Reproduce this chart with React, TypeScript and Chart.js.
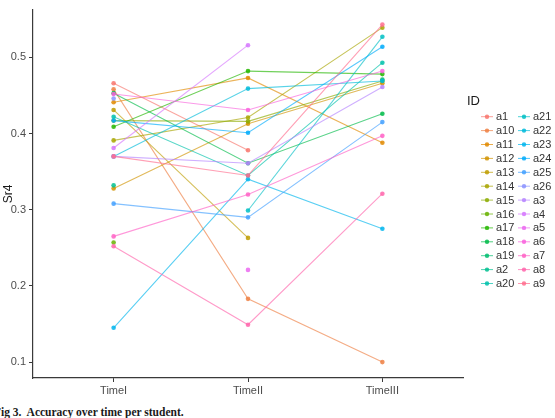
import React, { useEffect, useRef } from "react";
import { Chart, registerables } from "chart.js";

Chart.register(...registerables);

// Student IDs in factor-level (alphabetical) order
const ids = [
  "a1", "a10", "a11", "a12", "a13", "a14", "a15", "a16", "a17", "a18", "a19", "a2", "a20",
  "a21", "a22", "a23", "a24", "a25", "a26", "a3", "a4", "a5", "a6", "a7", "a8", "a9",
];

const timeLabels = ["TimeI", "TimeII", "TimeIII"];
const yTicks = [0.1, 0.2, 0.3, 0.4, 0.5];

// Sr4 per student at TimeI, TimeII, TimeIII (null = not measured)
const a1 = [0.466, 0.378, null];
const a10 = [0.458, 0.183, 0.1];
const a11 = [0.441, 0.473, 0.388];
const a12 = [0.328, 0.413, 0.466];
const a13 = [0.431, 0.263, null];
const a14 = [0.391, 0.421, 0.539];
const a15 = [0.417, 0.416, 0.469];
const a16 = [0.257, null, null];
const a17 = [0.409, 0.482, 0.478];
const a18 = [0.453, 0.361, 0.426];
const a19 = [null, null, 0.471];
const a2 = [0.332, null, null];
const a20 = [0.422, 0.345, 0.493];
const a21 = [null, 0.299, 0.527];
const a22 = [0.37, 0.459, 0.469];
const a23 = [0.145, 0.34, 0.275];
const a24 = [0.417, 0.401, 0.514];
const a25 = [0.308, 0.29, 0.415];
const a26 = [0.446, null, null];
const a3 = [0.37, 0.361, 0.461];
const a4 = [0.381, 0.516, null];
const a5 = [null, 0.221, null];
const a6 = [0.452, 0.431, 0.482];
const a7 = [0.265, 0.32, 0.397];
const a8 = [0.252, 0.149, 0.321];
const a9 = [0.37, 0.345, 0.543];

const seriesValues = [
  a1, a10, a11, a12, a13, a14, a15, a16, a17, a18, a19, a2, a20,
  a21, a22, a23, a24, a25, a26, a3, a4, a5, a6, a7, a8, a9,
];

// HCL (polar Luv) to sRGB, as used by the default discrete hue palette
function hclColor(h: number, c: number, l: number, alpha: number): string {
  const rad = (h * Math.PI) / 180;
  const U = c * Math.cos(rad);
  const V = c * Math.sin(rad);
  const Xn = 95.047, Yn = 100, Zn = 108.883;
  const den = Xn + 15 * Yn + 3 * Zn;
  const un = (4 * Xn) / den;
  const vn = (9 * Yn) / den;
  const Y = l > 8 ? Yn * Math.pow((l + 16) / 116, 3) : (Yn * l) / 903.3;
  const up = U / (13 * l) + un;
  const vp = V / (13 * l) + vn;
  const X = (Y * 9 * up) / (4 * vp);
  const Z = (Y * (12 - 3 * up - 20 * vp)) / (4 * vp);
  const x = X / 100, y = Y / 100, z = Z / 100;
  const lin = [
    3.2404542 * x - 1.5371385 * y - 0.4985314 * z,
    -0.969266 * x + 1.8760108 * y + 0.041556 * z,
    0.0556434 * x - 0.2040259 * y + 1.0572252 * z,
  ];
  const rgb = lin.map((v) => {
    const g = v <= 0.0031308 ? 12.92 * v : 1.055 * Math.pow(v, 1 / 2.4) - 0.055;
    return Math.round(Math.min(1, Math.max(0, g)) * 255);
  });
  return `rgba(${rgb[0]},${rgb[1]},${rgb[2]},${alpha})`;
}

const hueOf = (i: number) => 15 + (360 * i) / ids.length;

const AXIS_COLOR = "#3a3a3a";
const TEXT_COLOR = "#4d4d4d";
const FONT_FAMILY = "'Liberation Sans', Arial, sans-serif";

// Two-column legend with key glyphs (line + point), drawn on the canvas
const idLegend = {
  id: "idLegend",
  afterDraw(chart: Chart) {
    const ctx = chart.ctx;
    ctx.save();
    ctx.fillStyle = "#1a1a1a";
    ctx.font = `13px ${FONT_FAMILY}`;
    ctx.textAlign = "left";
    ctx.textBaseline = "middle";
    ctx.fillText("ID", 467, 101);
    const rows = Math.ceil(ids.length / 2);
    ids.forEach((id, i) => {
      const col = Math.floor(i / rows);
      const row = i % rows;
      const cx = col === 0 ? 487 : 524;
      const cy = 116.7 + row * 13.9;
      ctx.strokeStyle = hclColor(hueOf(i), 100, 65, 0.7);
      ctx.lineWidth = 1;
      ctx.beginPath();
      ctx.moveTo(cx - 6, cy);
      ctx.lineTo(cx + 6, cy);
      ctx.stroke();
      ctx.fillStyle = hclColor(hueOf(i), 100, 65, 0.85);
      ctx.beginPath();
      ctx.arc(cx, cy, 2.2, 0, Math.PI * 2);
      ctx.fill();
      ctx.fillStyle = "#333333";
      ctx.font = `11px ${FONT_FAMILY}`;
      ctx.fillText(id, cx + 9, cy + 0.5);
    });
    ctx.restore();
  },
};

export default function App() {
  const canvasRef = useRef<HTMLCanvasElement | null>(null);

  useEffect(() => {
    if (!canvasRef.current) return;
    const datasets = ids.map((id, i) => ({
      label: id,
      data: seriesValues[i].map((v, t) => ({ x: t + 1, y: v })),
      borderColor: hclColor(hueOf(i), 100, 65, 0.65),
      backgroundColor: hclColor(hueOf(i), 100, 65, 0.85),
      pointBackgroundColor: hclColor(hueOf(i), 100, 65, 0.85),
      pointBorderWidth: 0,
      pointRadius: 2.3,
      borderWidth: 1.1,
      spanGaps: false,
      order: ids.length - i,
    }));

    const chart = new Chart(canvasRef.current, {
      type: "line",
      data: { datasets },
      options: {
        responsive: false,
        animation: false,
        devicePixelRatio: 1,
        layout: { padding: { top: 8, right: 92, left: 0, bottom: 0 } },
        plugins: {
          legend: { display: false },
          tooltip: { enabled: false },
        },
        scales: {
          x: {
            type: "linear",
            min: 0.4,
            max: 3.6,
            afterBuildTicks: (scale: any) => {
              scale.ticks = timeLabels.map((_, i) => ({ value: i + 1 }));
            },
            afterFit: (scale: any) => {
              scale.height = 22;
            },
            ticks: {
              callback: (v: any) => timeLabels[Number(v) - 1] ?? "",
              color: TEXT_COLOR,
              font: { family: FONT_FAMILY, size: 11 },
              padding: 2,
              maxRotation: 0,
            },
            grid: { drawOnChartArea: false, tickLength: 4, color: AXIS_COLOR },
            border: { color: AXIS_COLOR, width: 1.2 },
          },
          y: {
            type: "linear",
            min: 0.0791,
            max: 0.5627,
            afterBuildTicks: (scale: any) => {
              scale.ticks = yTicks.map((v) => ({ value: v }));
            },
            afterFit: (scale: any) => {
              scale.width = 33;
            },
            ticks: {
              callback: (v: any) => Number(v).toFixed(1),
              color: TEXT_COLOR,
              font: { family: FONT_FAMILY, size: 11 },
              padding: 3,
            },
            title: {
              display: true,
              text: "Sr4",
              color: "#1a1a1a",
              font: { family: FONT_FAMILY, size: 12 },
              padding: { top: 1, bottom: 0 },
            },
            grid: { drawOnChartArea: false, tickLength: 4, color: AXIS_COLOR },
            border: { color: AXIS_COLOR, width: 1.2 },
          },
        },
      },
      plugins: [idLegend],
    });
    return () => chart.destroy();
  }, []);

  return (
    <div style={{ position: "absolute", left: 0, top: 0, width: 555, height: 418, overflow: "hidden", background: "#fff" }}>
      <canvas ref={canvasRef} width={555} height={400} style={{ position: "absolute", left: 0, top: 0 }} />
      <div
        style={{
          position: "absolute",
          left: -6,
          top: 405,
          fontFamily: "'Liberation Serif', 'Times New Roman', serif",
          fontWeight: "bold",
          fontSize: 11.5,
          color: "#1a1a1a",
          whiteSpace: "pre",
          lineHeight: "14px",
        }}
      >
        {"Fig 3.  Accuracy over time per student."}
      </div>
    </div>
  );
}
